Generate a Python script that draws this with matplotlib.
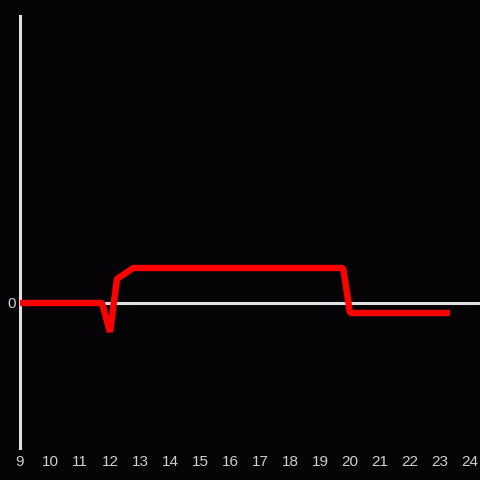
import matplotlib
matplotlib.use("Agg")
import matplotlib.pyplot as plt

hours = [9.0, 11.73, 12.0, 12.23, 12.77, 19.77, 20.0, 23.33]
values = [0.0, 0.0, -2.9, 2.4, 3.5, 3.5, -1.0, -1.0]
xticks = list(range(9, 25))
yticks = [0]

bg = "#050306"
fg = "#e0e0e0"
txt = "#cfcfcf"

fig = plt.figure(figsize=(4.8, 4.8), dpi=100, facecolor=bg)
ax = fig.add_axes([20/480, 32/480, 460/480, 432/480])
ax.set_facecolor(bg)
ax.set_xlim(9, 9 + 460/30)
ax.set_ylim(-14.5, 28.7)

for s in ["top", "right", "bottom"]:
    ax.spines[s].set_visible(False)
ax.spines["left"].set_color(fg)
ax.spines["left"].set_linewidth(2.2)

ax.axhline(0, color=fg, lw=2.2, zorder=1)
ax.plot(hours, values, color="#ff0000", lw=4.6, zorder=3, solid_joinstyle="bevel", solid_capstyle="butt")

ax.set_xticks(xticks)
ax.set_xticklabels([str(t) for t in xticks])
ax.set_yticks(yticks)
ax.set_yticklabels(["0"])
ax.tick_params(length=0, colors=txt, labelsize=11, pad=5)
ax.tick_params(axis="y", pad=3)
for lab in ax.get_xticklabels() + ax.get_yticklabels():
    lab.set_family("Liberation Sans")

fig.savefig("out.png", dpi=100, facecolor=bg)
